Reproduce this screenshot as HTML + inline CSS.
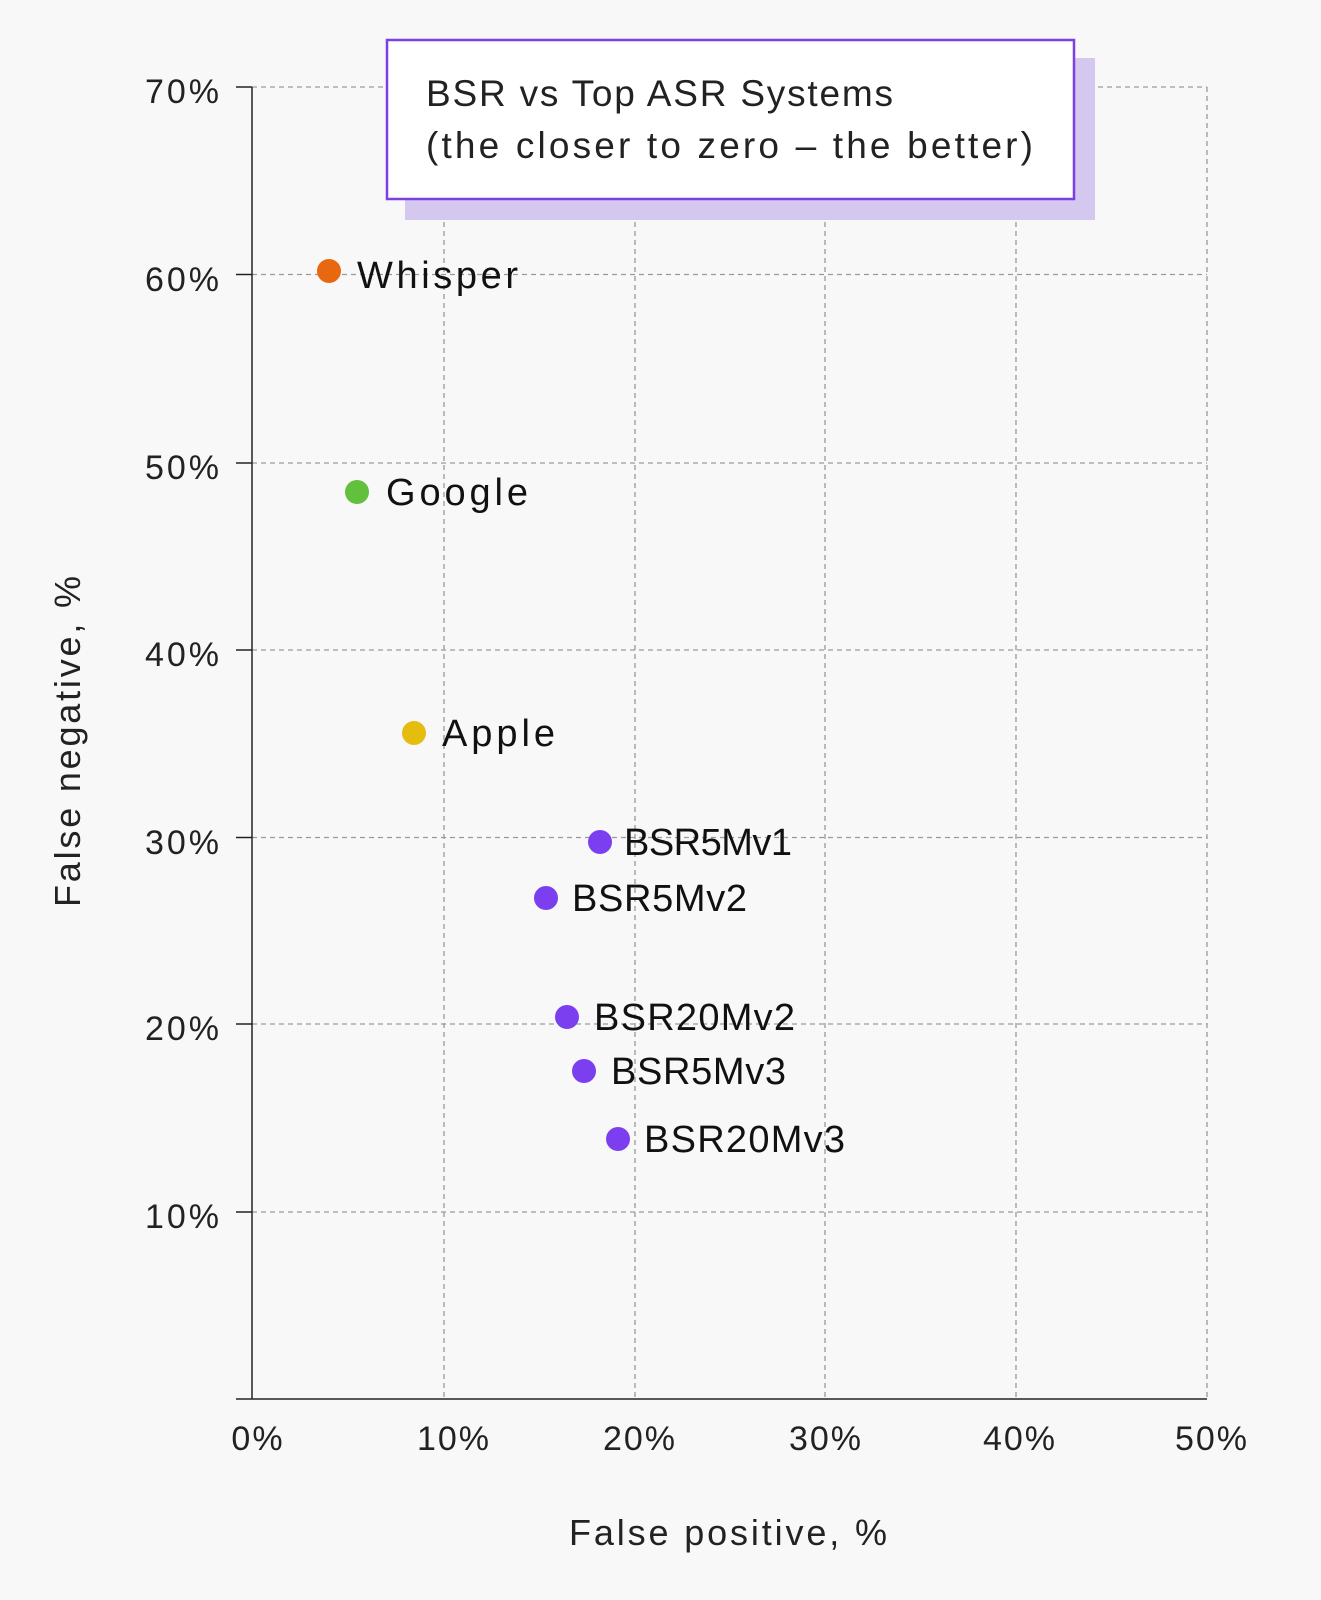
<!DOCTYPE html>
<html><head><meta charset="utf-8"><style>
html,body{margin:0;padding:0;background:#f8f8f8;}
svg{display:block;font-family:"Liberation Sans",sans-serif;}
</style></head><body>
<svg width="1321" height="1600" viewBox="0 0 1321 1600" xmlns="http://www.w3.org/2000/svg">
<rect width="1321" height="1600" fill="#f8f8f8"/>
<g stroke="#9a9a9a" stroke-width="1.3" stroke-dasharray="5,4" fill="none">
<line x1="252" y1="87" x2="1207" y2="87"/>
<line x1="252" y1="274.5" x2="1207" y2="274.5"/>
<line x1="252" y1="463" x2="1207" y2="463"/>
<line x1="252" y1="650" x2="1207" y2="650"/>
<line x1="252" y1="837.5" x2="1207" y2="837.5"/>
<line x1="252" y1="1024" x2="1207" y2="1024"/>
<line x1="252" y1="1212" x2="1207" y2="1212"/>
<line x1="444" y1="87" x2="444" y2="1399"/>
<line x1="635" y1="87" x2="635" y2="1399"/>
<line x1="825" y1="87" x2="825" y2="1399"/>
<line x1="1016" y1="87" x2="1016" y2="1399"/>
<line x1="1207" y1="87" x2="1207" y2="1399"/>
</g>
<g stroke="#222" stroke-width="1.5">
<line x1="252" y1="87" x2="252" y2="1399"/>
<line x1="252" y1="1399" x2="1207" y2="1399"/>
<line x1="236" y1="87" x2="252" y2="87"/>
<line x1="236" y1="274.5" x2="252" y2="274.5"/>
<line x1="236" y1="463" x2="252" y2="463"/>
<line x1="236" y1="650" x2="252" y2="650"/>
<line x1="236" y1="837.5" x2="252" y2="837.5"/>
<line x1="236" y1="1024" x2="252" y2="1024"/>
<line x1="236" y1="1212" x2="252" y2="1212"/>
<line x1="236" y1="1399" x2="252" y2="1399"/>
</g>
<g font-size="34" fill="#222" text-anchor="end" letter-spacing="3">
<text x="222" y="103">70%</text>
<text x="222" y="291">60%</text>
<text x="222" y="479">50%</text>
<text x="222" y="666">40%</text>
<text x="222" y="854">30%</text>
<text x="222" y="1040">20%</text>
<text x="222" y="1228">10%</text>
</g>
<g font-size="34" fill="#222" text-anchor="middle" letter-spacing="2">
<text x="258" y="1450">0%</text>
<text x="454" y="1450">10%</text>
<text x="640" y="1450">20%</text>
<text x="826" y="1450">30%</text>
<text x="1020" y="1450">40%</text>
<text x="1212" y="1450">50%</text>
</g>
<text x="569" y="1545" font-size="36" fill="#222" textLength="318" lengthAdjust="spacing">False positive, %</text>
<text transform="translate(80,742) rotate(-90)" x="-165" y="0" font-size="36" fill="#222" textLength="331" lengthAdjust="spacing">False negative, %</text>
<rect x="405" y="58" width="690" height="162" fill="#d4c8ef"/>
<rect x="387" y="40" width="687" height="159" fill="#fff" stroke="#7b3fe4" stroke-width="2.5"/>
<text x="426" y="106" font-size="37" fill="#222" textLength="467" lengthAdjust="spacing">BSR vs Top ASR Systems</text>
<text x="426" y="158" font-size="37" fill="#222" textLength="607" lengthAdjust="spacing">(the closer to zero – the better)</text>
<g font-size="38" fill="#111">
<circle cx="329" cy="271" r="12" fill="#e8680f"/><text x="357" y="288" textLength="161" lengthAdjust="spacing">Whisper</text>
<circle cx="357" cy="492" r="12" fill="#62c03c"/><text x="386" y="505" textLength="142" lengthAdjust="spacing">Google</text>
<circle cx="414" cy="733" r="12" fill="#e5bd0f"/><text x="442" y="746" textLength="113" lengthAdjust="spacing">Apple</text>
<circle cx="600" cy="842" r="12" fill="#7b3ff0"/><text x="624" y="855" textLength="168" lengthAdjust="spacing">BSR5Mv1</text>
<circle cx="546" cy="898" r="12" fill="#7b3ff0"/><text x="572" y="911" textLength="175" lengthAdjust="spacing">BSR5Mv2</text>
<circle cx="567" cy="1017" r="12" fill="#7b3ff0"/><text x="594" y="1030" textLength="201" lengthAdjust="spacing">BSR20Mv2</text>
<circle cx="584" cy="1071" r="12" fill="#7b3ff0"/><text x="611" y="1084" textLength="175" lengthAdjust="spacing">BSR5Mv3</text>
<circle cx="618" cy="1139" r="12" fill="#7b3ff0"/><text x="644" y="1152" textLength="201" lengthAdjust="spacing">BSR20Mv3</text>
</g>
</svg>
</body></html>
